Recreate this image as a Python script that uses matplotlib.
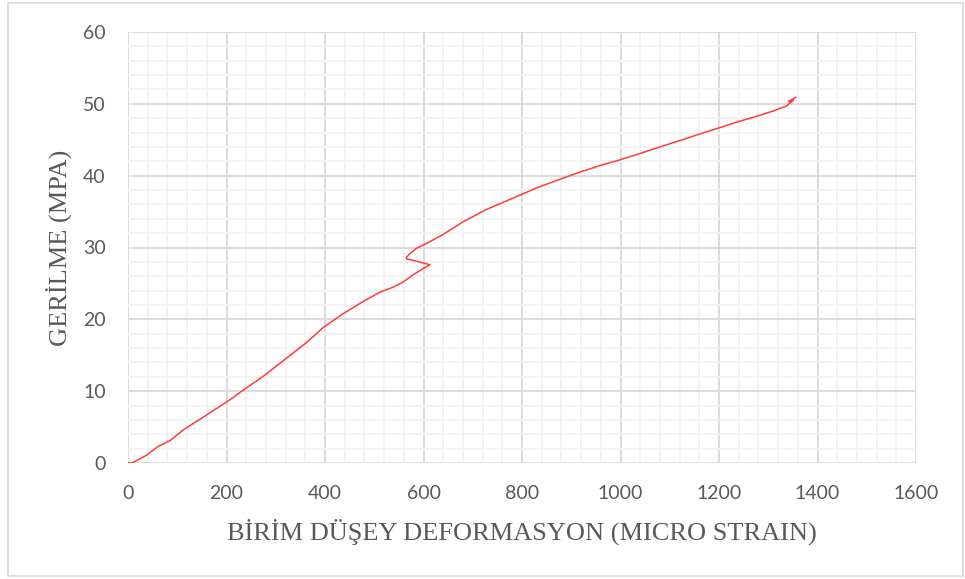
import matplotlib.pyplot as plt
from matplotlib.patches import Rectangle
from matplotlib.ticker import MultipleLocator

# strain (micro strain) vs stress (MPa)
strain = [0, 8, 14, 38, 61, 85, 112, 160, 207, 227, 275, 322, 363, 397, 437,
          478, 512, 539, 559, 579, 600, 613, 596, 586, 566, 565, 573, 586,
          607, 637, 681, 728, 769, 796, 830, 877, 918, 958, 999, 1040, 1080,
          1121, 1161, 1202, 1243, 1283, 1310, 1337, 1351, 1341, 1356]
stress = [0, 0, 0.2, 1.1, 2.3, 3.1, 4.6, 6.7, 8.8, 9.8, 12.1, 14.6, 16.8,
          18.9, 20.8, 22.5, 23.8, 24.5, 25.2, 26.2, 27.1, 27.6, 27.9, 28.1,
          28.4, 28.6, 29.2, 29.9, 30.6, 31.7, 33.6, 35.3, 36.5, 37.3, 38.3,
          39.5, 40.5, 41.4, 42.2, 43.1, 44.0, 44.9, 45.8, 46.7, 47.6, 48.4,
          49.0, 49.7, 50.5, 50.3, 50.9]

XLABEL = "BİRİM DÜŞEY DEFORMASYON (MICRO STRAIN)"
YLABEL = "GERİLME (MPA)"
TXT = "#595959"

fig = plt.figure(figsize=(9.65, 5.79), dpi=100)
ax = fig.add_axes([128 / 965, 1 - 463 / 579, (916 - 128) / 965, (463 - 32) / 579])

ax.plot(strain, stress, color="#ff3b3b", lw=1.1, zorder=3)

ax.set_xlim(0, 1600)
ax.set_ylim(0, 60)
ax.xaxis.set_major_locator(MultipleLocator(200))
ax.xaxis.set_minor_locator(MultipleLocator(40))
ax.yaxis.set_major_locator(MultipleLocator(10))
ax.yaxis.set_minor_locator(MultipleLocator(2))
ax.grid(which="minor", color="#f2f2f2", lw=1.3, zorder=0)
ax.grid(which="major", color="#d9d9d9", lw=1.3, zorder=1)
ax.set_axisbelow(True)
for s in ax.spines.values():
    s.set_visible(False)
ax.tick_params(which="both", length=0)
ax.tick_params(which="major", pad=16, labelsize=14, labelcolor=TXT)
for lab in ax.get_xticklabels() + ax.get_yticklabels():
    lab.set_family("Lato")

ax.set_xlabel(XLABEL, family="Liberation Serif", fontsize=19, color=TXT, labelpad=12)
ax.set_ylabel(YLABEL, family="Liberation Serif", fontsize=19, color=TXT, labelpad=8)

# outer chart-area border
fig.patches.append(Rectangle((8 / 965, 3 / 579), 955 / 965, 573 / 579,
                             transform=fig.transFigure, fill=False,
                             ec="#d9d9d9", lw=1.2))

fig.savefig("out.png", dpi=100)
